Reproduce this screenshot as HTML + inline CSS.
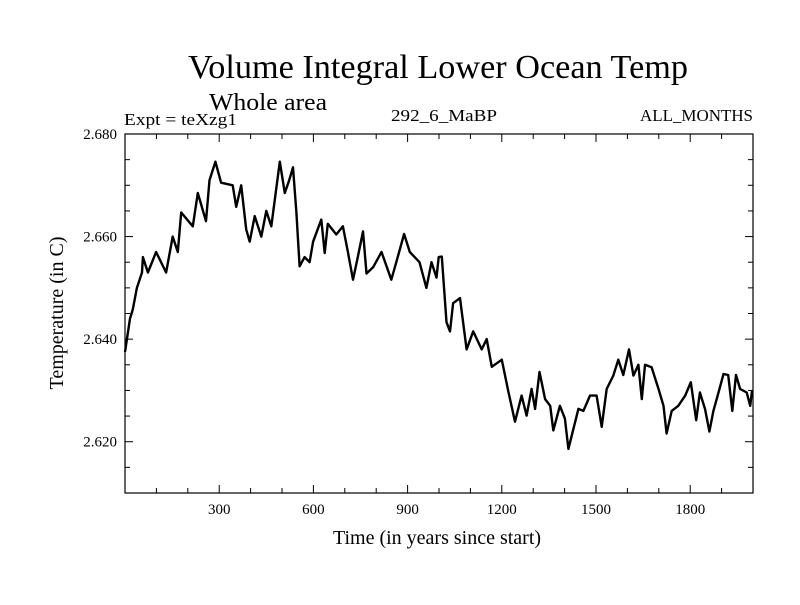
<!DOCTYPE html>
<html><head><meta charset="utf-8"><style>
body{margin:0;background:#fff;width:800px;height:600px;overflow:hidden}
svg{font-family:"Liberation Serif",serif}
</style></head><body>
<svg id="chart" width="800" height="600">
<text x="188" y="78" font-size="34" textLength="500" lengthAdjust="spacingAndGlyphs">Volume Integral Lower Ocean Temp</text>
<text x="209" y="110" font-size="24" textLength="118" lengthAdjust="spacingAndGlyphs">Whole area</text>
<text x="124" y="125" font-size="17" textLength="113" lengthAdjust="spacingAndGlyphs">Expt = teXzg1</text>
<text x="391" y="121" font-size="17" textLength="106" lengthAdjust="spacingAndGlyphs">292_6_MaBP</text>
<text x="640" y="121" font-size="17" textLength="113" lengthAdjust="spacingAndGlyphs">ALL_MONTHS</text>
<text transform="translate(63,313) rotate(-90)" font-size="20" text-anchor="middle">Temperature (in C)</text>
<text x="437" y="544" font-size="20" text-anchor="middle">Time (in years since start)</text>
<g id="axes"></g>
<path id="line" fill="none" stroke="#000" stroke-width="2.4" stroke-linejoin="round"/>
<rect x="125" y="134" width="628" height="359" fill="none" stroke="#000" stroke-width="1.2"/>
</svg>
<script>
const years=[0,16,25,38,54,57,73,99,131,152,168,179,216,232,258,269,288,306,343,354,370,386,397,413,434,450,466,493,509,523,535,546,556,572,588,599,625,636,646,673,694,710,726,742,758,769,790,817,848,864,889,907,938,960,976,992,999,1009,1024,1035,1045,1067,1088,1109,1136,1152,1168,1200,1220,1242,1263,1279,1295,1306,1320,1338,1354,1364,1385,1401,1412,1428,1444,1460,1481,1502,1518,1534,1555,1571,1587,1605,1619,1635,1646,1656,1677,1699,1715,1725,1741,1762,1784,1802,1819,1831,1847,1861,1874,1890,1906,1921,1934,1946,1959,1980,1991,1997];
const temps=[2.6375,2.644,2.6458,2.650,2.653,2.656,2.653,2.657,2.653,2.660,2.657,2.6647,2.662,2.6685,2.663,2.671,2.6746,2.6705,2.670,2.6658,2.670,2.6614,2.659,2.664,2.660,2.665,2.662,2.6746,2.6685,2.671,2.6735,2.6647,2.6542,2.656,2.655,2.659,2.6633,2.6568,2.6625,2.6604,2.662,2.657,2.6516,2.6562,2.661,2.6528,2.654,2.657,2.6516,2.655,2.6605,2.657,2.655,2.650,2.655,2.652,2.656,2.6561,2.6433,2.6415,2.647,2.648,2.638,2.6415,2.638,2.640,2.6346,2.636,2.630,2.6239,2.629,2.6251,2.6303,2.6264,2.6336,2.6283,2.627,2.6222,2.627,2.6245,2.6186,2.6225,2.6264,2.626,2.629,2.629,2.6229,2.6303,2.6329,2.636,2.633,2.638,2.6329,2.635,2.6283,2.635,2.6345,2.6303,2.627,2.6216,2.626,2.627,2.629,2.6316,2.6242,2.6296,2.6264,2.622,2.626,2.6296,2.6332,2.633,2.626,2.633,2.6303,2.6296,2.627,2.630];
const xTicks=[300,600,900,1200,1500,1800];
const yTicks=[2.620,2.640,2.660,2.680];
const X0=125,X1=753,Y0=493,Y1=134,XMIN=0,XMAX=2000,YMIN=2.610,YMAX=2.680;
const sx=v=>X0+(v-XMIN)/(XMAX-XMIN)*(X1-X0);
const sy=v=>Y0-(v-YMIN)/(YMAX-YMIN)*(Y0-Y1);
const ns="http://www.w3.org/2000/svg",ax=document.getElementById('axes');
function mk(t,a){const e=document.createElementNS(ns,t);for(const k in a)e.setAttribute(k,a[k]);ax.appendChild(e);return e;}
for(let v=100;v<2000;v+=100){const x=sx(v),L=v%300===0?8:5;
 const t1=mk('line',{x1:x,x2:x,y1:Y0,y2:Y0-L,stroke:'#000'});
 
 
 const t2=mk('line',{x1:x,x2:x,y1:Y1,y2:Y1+L,stroke:'#000'});
 
 }
xTicks.forEach(v=>{const t=mk('text',{x:sx(v),y:Y0+21,'font-size':15,'text-anchor':'middle'});t.textContent=v;
 
 });
for(let i=0;i<=14;i++){const v=YMIN+i*0.005,y=sy(v),L=(i%4===2)?8:5;
 const t1=mk('line',{x1:X0,x2:X0+L,y1:y,y2:y,stroke:'#000'});
 
 
 const t2=mk('line',{x1:X1,x2:X1-L,y1:y,y2:y,stroke:'#000'});
 
 }
yTicks.forEach(v=>{const t=mk('text',{x:X0-8,y:sy(v)+5,'font-size':15,'text-anchor':'end'});t.textContent=v.toFixed(3);
 
 });
document.getElementById('line').setAttribute('d',years.map((y,i)=>(i?'L':'M')+sx(y).toFixed(1)+','+sy(temps[i]).toFixed(1)).join(''));
</script>
</body></html>
